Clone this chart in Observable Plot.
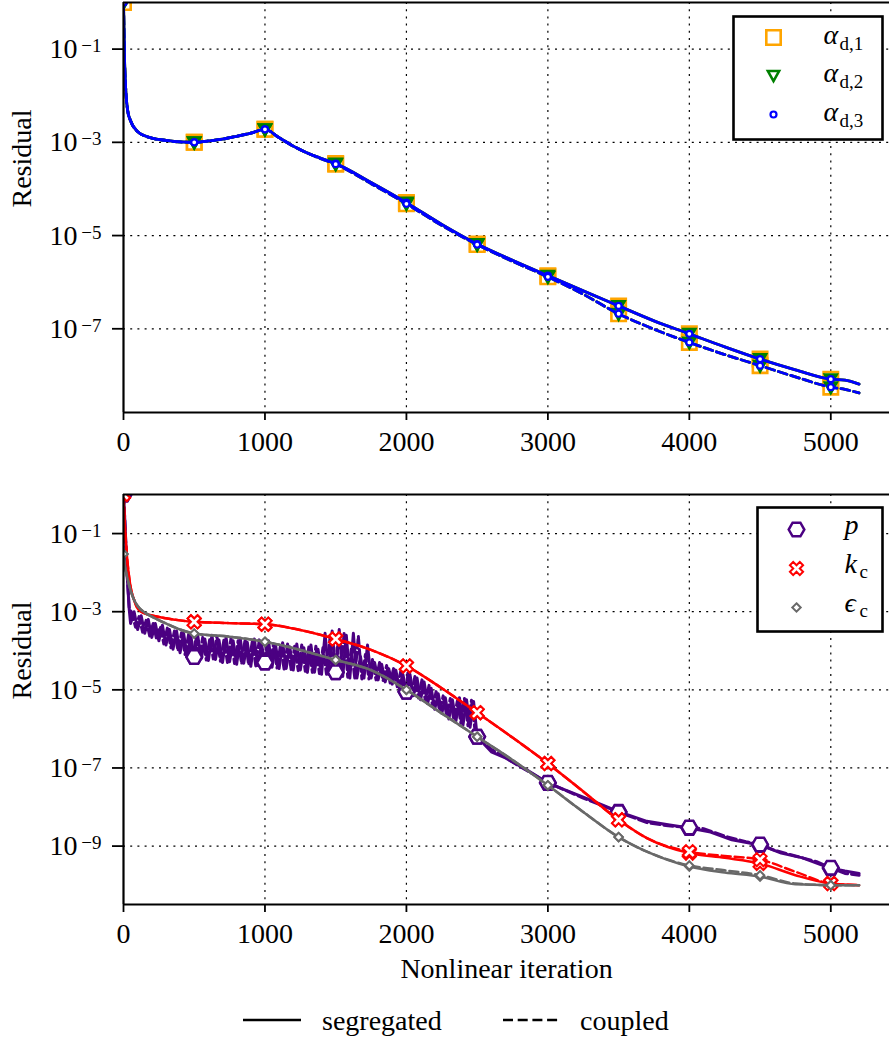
<!DOCTYPE html>
<html><head><meta charset="utf-8">
<script src="https://cdn.jsdelivr.net/npm/d3@7"></script>
<script src="https://cdn.jsdelivr.net/npm/@observablehq/plot@0.6"></script>
<style>
body{margin:0;background:#fff;}
#wrap{width:889px;}
#wrap svg{display:block;}
#legend{position:relative;width:889px;height:49px;font-family:'Liberation Serif','DejaVu Serif',serif;font-size:28px;}
#legend span{position:absolute;line-height:28px;white-space:nowrap;}
#legend svg{position:absolute;}
</style></head><body><div id="wrap"></div><div id="legend"></div>
<script>
// ---------- axes / ticks ----------
const xTicks = [0, 1000, 2000, 3000, 4000, 5000];
const xGrid = [1000, 2000, 3000, 4000, 5000];
const yTicksTop = [1e-1, 1e-3, 1e-5, 1e-7];
const yExpTop = ["−1", "−3", "−5", "−7"];
const yTicksBot = [1e-1, 1e-3, 1e-5, 1e-7, 1e-9];
const yExpBot = ["−1", "−3", "−5", "−7", "−9"];

// ---------- top panel: phase fractions ----------
const alphaIter = [0, 8, 15, 30, 50, 100, 150, 200, 300, 400, 500, 600, 700, 800, 900, 1000, 1100, 1200, 1300, 1400, 1500, 1750, 2000, 2250, 2500, 2750, 3000, 3250, 3500, 3750, 4000, 4250, 4500, 4750, 5000, 5100, 5200];
const alpha1Seg = [1.0, 5e-2, 1.5e-2, 4.7e-3, 2.9e-3, 1.7e-3, 1.38e-3, 1.23e-3, 1.1e-3, 1.02e-3, 1.0e-3, 1.07e-3, 1.17e-3, 1.35e-3, 1.58e-3, 1.9e-3, 1.26e-3, 8.3e-4, 5.9e-4, 4.5e-4, 3.5e-4, 1.38e-4, 5.1e-5, 1.74e-5, 6.6e-6, 2.95e-6, 1.38e-6, 6.5e-7, 3.1e-7, 1.48e-7, 7.8e-8, 4.1e-8, 2.24e-8, 1.32e-8, 8.3e-9, 7.9e-9, 6.5e-9];
const alpha2Seg = [1.0, 5e-2, 1.5e-2, 4.7e-3, 2.9e-3, 1.7e-3, 1.38e-3, 1.23e-3, 1.1e-3, 1.02e-3, 1.0e-3, 1.07e-3, 1.17e-3, 1.35e-3, 1.58e-3, 1.9e-3, 1.26e-3, 8.3e-4, 5.9e-4, 4.5e-4, 3.5e-4, 1.38e-4, 5.1e-5, 1.74e-5, 6.6e-6, 2.95e-6, 1.38e-6, 6.5e-7, 3.1e-7, 1.48e-7, 7.8e-8, 4.1e-8, 2.24e-8, 1.32e-8, 8.3e-9, 7.9e-9, 6.5e-9];
const alpha3Seg = [1.0, 5e-2, 1.5e-2, 4.7e-3, 2.9e-3, 1.7e-3, 1.38e-3, 1.23e-3, 1.1e-3, 1.02e-3, 1.0e-3, 1.07e-3, 1.17e-3, 1.35e-3, 1.58e-3, 1.9e-3, 1.26e-3, 8.3e-4, 5.9e-4, 4.5e-4, 3.5e-4, 1.38e-4, 5.1e-5, 1.74e-5, 6.6e-6, 2.95e-6, 1.38e-6, 6.5e-7, 3.1e-7, 1.48e-7, 7.8e-8, 4.1e-8, 2.24e-8, 1.32e-8, 8.3e-9, 7.9e-9, 6.5e-9];
const alpha1Coup = [1.0, 5e-2, 1.5e-2, 4.7e-3, 2.9e-3, 1.7e-3, 1.38e-3, 1.23e-3, 1.1e-3, 1.02e-3, 1.0e-3, 1.07e-3, 1.17e-3, 1.35e-3, 1.58e-3, 1.9e-3, 1.26e-3, 8.3e-4, 5.9e-4, 4.4e-4, 3.4e-4, 1.3e-4, 4.8e-5, 1.65e-5, 6.4e-6, 2.8e-6, 1.3e-6, 5.5e-7, 2.1e-7, 9.8e-8, 5.1e-8, 2.8e-8, 1.62e-8, 9.3e-9, 5.6e-9, 5.0e-9, 4.2e-9];
const alpha2Coup = [1.0, 5e-2, 1.5e-2, 4.7e-3, 2.9e-3, 1.7e-3, 1.38e-3, 1.23e-3, 1.1e-3, 1.02e-3, 1.0e-3, 1.07e-3, 1.17e-3, 1.35e-3, 1.58e-3, 1.9e-3, 1.26e-3, 8.3e-4, 5.9e-4, 4.4e-4, 3.4e-4, 1.3e-4, 4.8e-5, 1.65e-5, 6.4e-6, 2.8e-6, 1.3e-6, 5.5e-7, 2.1e-7, 9.8e-8, 5.1e-8, 2.8e-8, 1.62e-8, 9.3e-9, 5.6e-9, 5.0e-9, 4.2e-9];
const alpha3Coup = [1.0, 5e-2, 1.5e-2, 4.7e-3, 2.9e-3, 1.7e-3, 1.38e-3, 1.23e-3, 1.1e-3, 1.02e-3, 1.0e-3, 1.07e-3, 1.17e-3, 1.35e-3, 1.58e-3, 1.9e-3, 1.26e-3, 8.3e-4, 5.9e-4, 4.4e-4, 3.4e-4, 1.3e-4, 4.8e-5, 1.65e-5, 6.4e-6, 2.8e-6, 1.3e-6, 5.5e-7, 2.1e-7, 9.8e-8, 5.1e-8, 2.8e-8, 1.62e-8, 9.3e-9, 5.6e-9, 5.0e-9, 4.2e-9];

// ---------- bottom panel: pressure, k, epsilon ----------
const pSegIter = [0, 10, 25, 40,
  50, 75, 100, 125, 150, 175, 200, 225, 250, 275, 300, 325, 350, 375, 400, 425, 450, 475,
  500, 525, 550, 575, 600, 625, 650, 675, 700, 725, 750, 775, 800, 825, 850, 875, 900, 925, 950, 975,
  1000, 1025, 1050, 1075, 1100, 1125, 1150, 1175, 1200, 1225, 1250, 1275, 1300, 1325, 1350, 1375, 1400, 1425, 1450, 1475,
  1500, 1525, 1550, 1575, 1600, 1625, 1650, 1675, 1700, 1725, 1750, 1775, 1800, 1825, 1850, 1875, 1900, 1925, 1950, 1975,
  2000, 2025, 2050, 2075, 2100, 2125, 2150, 2175, 2200, 2225, 2250, 2275, 2300, 2325, 2350, 2375, 2400, 2425, 2450, 2475,
  2500, 2600, 2700, 2850, 3000, 3250, 3500, 3700, 3850, 4000, 4150, 4300, 4500, 4650, 4800, 5000, 5100, 5200];
const pSeg = [1.0, 2e-1, 1e-2, 1.2e-3,
  5.0e-4, 1.0e-3, 3.5e-4, 7.9e-4, 2.8e-4, 6.3e-4, 2.2e-4, 5.0e-4, 1.8e-4, 4.5e-4, 1.4e-4, 3.5e-4, 1.1e-4, 3.2e-4, 8.9e-5, 2.8e-4, 7.1e-5, 2.5e-4,
  6.9e-5, 2.4e-4, 6.3e-5, 2.0e-4, 5.6e-5, 2.5e-4, 6.0e-5, 1.9e-4, 5.0e-5, 2.2e-4, 5.2e-5, 1.8e-4, 4.5e-5, 2.1e-4, 4.8e-5, 1.66e-4, 4.0e-5, 2.0e-4, 4.2e-5, 1.5e-4,
  5.0e-5, 1.8e-4, 3.8e-5, 1.4e-4, 3.5e-5, 1.6e-4, 3.5e-5, 1.26e-4, 3.2e-5, 1.5e-4, 3.2e-5, 1.2e-4, 2.8e-5, 1.4e-4, 2.8e-5, 1.1e-4, 2.5e-5, 2.8e-4, 2.5e-5, 3.2e-4,
  2.8e-5, 3.5e-4, 2.2e-5, 2.5e-4, 2.0e-5, 2.8e-4, 2.0e-5, 7.1e-5, 2.0e-5, 1.4e-4, 2.0e-5, 5.0e-5, 1.8e-5, 4.5e-5, 1.6e-5, 3.5e-5, 1.4e-5, 3.2e-5, 1.1e-5, 2.5e-5,
  8.9e-6, 2.5e-5, 7.1e-6, 2.0e-5, 5.6e-6, 1.6e-5, 4.5e-6, 1.1e-5, 3.2e-6, 7.9e-6, 2.5e-6, 6.3e-6, 1.8e-6, 5.6e-6, 1.6e-6, 6.3e-6, 1.26e-6, 5.6e-6, 1.1e-6, 5.0e-6,
  6.3e-7, 2.6e-7, 1.8e-7, 9e-8, 4.1e-8, 1.8e-8, 7.6e-9, 4.3e-9, 3.5e-9, 2.9e-9, 2.3e-9, 1.45e-9, 1.07e-9, 6.6e-10, 5.0e-10, 2.7e-10, 2.3e-10, 2.0e-10];
const pCoupIter = [0, 10, 25, 40,
  60, 85, 110, 135, 160, 185, 210, 235, 260, 285, 310, 335, 360, 385, 410, 435, 460, 485,
  500, 510, 535, 560, 585, 610, 635, 660, 685, 710, 735, 760, 785, 810, 835, 860, 885, 910, 935, 960, 985,
  1000, 1010, 1035, 1060, 1085, 1110, 1135, 1160, 1185, 1210, 1235, 1260, 1285, 1310, 1335, 1360, 1385, 1410, 1435, 1460, 1485,
  1500, 1510, 1535, 1560, 1585, 1610, 1635, 1660, 1685, 1710, 1735, 1760, 1785, 1810, 1835, 1860, 1885, 1910, 1935, 1960, 1985,
  2000, 2010, 2035, 2060, 2085, 2110, 2135, 2160, 2185, 2210, 2235, 2260, 2285, 2310, 2335, 2360, 2385, 2410, 2435, 2460, 2485,
  2500, 2600, 2700, 2800, 3000, 3250, 3500, 3700, 3850, 4000, 4100, 4250, 4400, 4500, 4600, 4750, 4900, 5000, 5100, 5200];
const pCoup = [1.0, 2e-1, 1e-2, 1.3e-3,
  9e-4, 4.0e-4, 7.5e-4, 3.0e-4, 6.0e-4, 2.4e-4, 5.0e-4, 1.9e-4, 4.2e-4, 1.5e-4, 3.8e-4, 1.2e-4, 3.2e-4, 1.0e-4, 2.9e-4, 8.0e-5, 2.6e-4, 7.0e-5,
  6.9e-5, 2.3e-4, 6.5e-5, 2.2e-4, 5.8e-5, 2.0e-4, 6.2e-5, 2.4e-4, 5.4e-5, 1.9e-4, 5.0e-5, 2.1e-4, 4.7e-5, 1.8e-4, 4.6e-5, 2.0e-4, 4.3e-5, 1.7e-4, 4.1e-5, 1.9e-4, 4.0e-5,
  5.0e-5, 1.6e-4, 3.9e-5, 1.5e-4, 3.6e-5, 1.4e-4, 3.4e-5, 1.5e-4, 3.3e-5, 1.3e-4, 3.1e-5, 1.4e-4, 3.0e-5, 1.25e-4, 2.8e-5, 1.3e-4, 2.6e-5, 1.2e-4, 2.5e-5, 2.2e-4, 2.5e-5,
  2.8e-5, 1.2e-4, 2.3e-5, 3.0e-4, 2.1e-5, 1.1e-4, 2.0e-5, 2.4e-4, 1.9e-5, 8.0e-5, 1.9e-5, 6.0e-5, 1.8e-5, 5.0e-5, 1.7e-5, 4.2e-5, 1.5e-5, 3.6e-5, 1.2e-5, 3.0e-5, 1.0e-5,
  8.9e-6, 2.7e-5, 7.8e-6, 2.2e-5, 6.2e-6, 1.8e-5, 5.0e-6, 1.3e-5, 3.8e-6, 9.0e-6, 2.8e-6, 7.0e-6, 2.1e-6, 6.0e-6, 1.7e-6, 5.2e-6, 1.4e-6, 6.0e-6, 1.2e-6, 5.4e-6, 9.0e-7,
  6.3e-7, 3.0e-7, 1.85e-7, 1.1e-7, 4.2e-8, 1.7e-8, 7.4e-9, 4.0e-9, 3.3e-9, 3.0e-9, 2.8e-9, 1.8e-9, 1.3e-9, 1.1e-9, 7.9e-10, 5.6e-10, 4.0e-10, 2.8e-10, 2.0e-10, 1.8e-10];
const turbIter = [0, 10, 25, 50, 75, 100, 150, 200, 300, 400, 500, 750, 1000, 1250, 1500, 1750, 2000, 2250, 2500, 2750, 3000, 3250, 3500, 3700, 4000, 4250, 4500, 4750, 5000, 5200];
const kSeg = [1.0, 1.5e-1, 2.5e-2, 4.3e-3, 2.0e-3, 1.2e-3, 9e-4, 8e-4, 6.8e-4, 6e-4, 5.5e-4, 5.1e-4, 4.8e-4, 3.4e-4, 2.0e-4, 1.05e-4, 4.1e-5, 1.1e-5, 2.6e-6, 6e-7, 1.3e-7, 2.5e-8, 4.7e-9, 1.6e-9, 6.6e-10, 5.0e-10, 3.6e-10, 1.8e-10, 1.1e-10, 1.0e-10];
const kCoup = [1.0, 1.5e-1, 2.5e-2, 4.3e-3, 2.0e-3, 1.2e-3, 9e-4, 8e-4, 6.8e-4, 6e-4, 5.5e-4, 5.1e-4, 4.8e-4, 3.4e-4, 2.0e-4, 1.05e-4, 4.1e-5, 1.1e-5, 2.6e-6, 6e-7, 1.3e-7, 2.5e-8, 4.7e-9, 1.6e-9, 7.2e-10, 5.6e-10, 4.5e-10, 2.2e-10, 1.1e-10, 1.0e-10];
const epsSeg = [3e-2, 1.5e-2, 8e-3, 3.5e-3, 2.0e-3, 1.4e-3, 9.5e-4, 7.5e-4, 5e-4, 3.5e-4, 2.75e-4, 2.3e-4, 1.7e-4, 1.05e-4, 5.8e-5, 3.2e-5, 1.0e-5, 2.5e-6, 6.3e-7, 1.6e-7, 3.6e-8, 7.5e-9, 1.7e-9, 7.2e-10, 3.0e-10, 2.1e-10, 1.65e-10, 1.05e-10, 1.0e-10, 1.0e-10];
const epsCoup = [3e-2, 1.5e-2, 8e-3, 3.5e-3, 2.0e-3, 1.4e-3, 9.5e-4, 7.5e-4, 5e-4, 3.5e-4, 2.75e-4, 2.3e-4, 1.7e-4, 1.05e-4, 5.8e-5, 3.2e-5, 1.0e-5, 2.5e-6, 6.3e-7, 1.6e-7, 3.6e-8, 7.5e-9, 1.7e-9, 7.2e-10, 3.2e-10, 2.4e-10, 1.8e-10, 1.1e-10, 1.0e-10, 1.0e-10];

// ---------- symbols ----------
const sym = (fn) => ({draw(c, size) { fn(c, Math.sqrt(size / Math.PI)); }});
const poly = (c, pts) => { pts.forEach(([x, y], i) => i ? c.lineTo(x, y) : c.moveTo(x, y)); c.closePath(); };
const symSquare = sym((c, r) => poly(c, [[-r, -r], [r, -r], [r, r], [-r, r]]));
const symTriDown = sym((c, r) => poly(c, [[-r, -0.8 * r], [r, -0.8 * r], [0, r]]));
const symCircle = sym((c, r) => { c.moveTo(r, 0); c.arc(0, 0, r, 0, 2 * Math.PI); c.closePath(); });
const symHex = sym((c, r) => poly(c, d3.range(6).map(k => [r * Math.cos(k * Math.PI / 3), r * Math.sin(k * Math.PI / 3)])));
const symX = sym((c, r) => {
  const a = r * 0.33, L = r, s = Math.SQRT1_2;
  const pts = [[a, L], [a, a], [L, a], [L, -a], [a, -a], [a, -L], [-a, -L], [-a, -a], [-L, -a], [-L, a], [-a, a], [-a, L]];
  poly(c, pts.map(([x, y]) => [(x - y) * s, (x + y) * s]));
});
const symDiamond = sym((c, r) => poly(c, [[0, -r], [r, 0], [0, r], [-r, 0]]));

const FONT = "'Liberation Serif','DejaVu Serif',serif";
const xDomain = [0, 5415];
const rows = (iter, vals) => iter.map((t, i) => ({iter: t, res: vals[i]}));
const gridStyle = {stroke: "black", strokeWidth: 1.2, strokeDasharray: "2,5.2"};

function seriesMarks(list, lw, curve) {
  const marks = [];
  for (const s of list) {
    for (const kind of ["seg", "coup"]) {
      const data = rows(s[kind + "Iter"], s[kind]);
      marks.push(Plot.line(data, {x: "iter", y: "res", stroke: s.color, strokeWidth: s.lw || lw,
        strokeDasharray: kind === "coup" ? "9,4" : null, curve: s.curve || curve, clip: true}));
      marks.push(Plot.dot(data.filter(d => d.iter % 500 === 0), {x: "iter", y: "res", symbol: s.symbol, r: s.r,
        stroke: s.color, fill: "white", strokeWidth: s.sw, clip: true}));
    }
  }
  return marks;
}

function legendMarks(items, box, mx, lx, sx, rowsDy, mainDy, subDy) {
  const m = [Plot.frame({fill: "white", stroke: "black", strokeWidth: 2.6, ...box})];
  items.forEach((it, i) => {
    m.push(Plot.dot([0], {frameAnchor: "top-right", dx: mx, dy: rowsDy[i], symbol: it.symbol, r: it.r,
      stroke: it.color, fill: "white", strokeWidth: it.sw}));
    m.push(Plot.text([it.main], {frameAnchor: "top-right", dx: lx, dy: rowsDy[i] + mainDy, text: d => d,
      textAnchor: "start", lineAnchor: "middle", fontSize: 28, fontStyle: "italic"}));
    if (it.sub) m.push(Plot.text([it.sub], {frameAnchor: "top-right", dx: sx, dy: rowsDy[i] + subDy, text: d => d,
      textAnchor: "start", lineAnchor: "middle", fontSize: 19}));
  });
  return m;
}

function axisMarks(yTicks, yExp, yMin) {
  return [
    Plot.ruleX([0], {stroke: "black", strokeWidth: 2.2}),
    Plot.ruleY([1], {stroke: "black", strokeWidth: 2.2}),
    Plot.ruleY([yMin], {stroke: "black", strokeWidth: 2.2}),
    Plot.axisX({ticks: xTicks, tickSize: 8, tickPadding: 11, tickFormat: "d", fontSize: 28, strokeWidth: 1.8, label: null}),
    Plot.axisY({ticks: yTicks, tickSize: 11, tickFormat: () => "", strokeWidth: 1.8, label: null}),
    Plot.text(yTicks, {y: d => d, frameAnchor: "left", text: () => "10", dx: -46, textAnchor: "end", lineAnchor: "middle", fontSize: 28}),
    Plot.text(yTicks, {y: d => d, frameAnchor: "left", text: (d, i) => yExp[i], dx: -22, dy: -3, textAnchor: "end", lineAnchor: "middle", fontSize: 19}),
    Plot.text(["Residual"], {frameAnchor: "left", dx: -101, rotate: -90, text: d => d, fontSize: 28, lineAnchor: "middle"})
  ];
}

// ---------- top plot ----------
const topList = [
  {segIter: alphaIter, seg: alpha1Seg, coupIter: alphaIter, coup: alpha1Coup, color: "#FFA500", symbol: symSquare, r: 7.2, sw: 2.6},
  {segIter: alphaIter, seg: alpha2Seg, coupIter: alphaIter, coup: alpha2Coup, color: "#008000", symbol: symTriDown, r: 5.6, sw: 3},
  {segIter: alphaIter, seg: alpha3Seg, coupIter: alphaIter, coup: alpha3Coup, color: "#0000FF", symbol: symCircle, r: 3, sw: 2.2}
];
const yMinTop = 1.6e-9;
const topPlot = Plot.plot({
  width: 889, height: 460, marginLeft: 123, marginRight: 0, marginTop: 2, marginBottom: 48,
  x: {domain: xDomain, axis: null}, y: {type: "log", domain: [yMinTop, 1], axis: null},
  style: {fontFamily: FONT, fontSize: "28px", color: "black", background: "white"},
  marks: [
    Plot.ruleX(xGrid, gridStyle),
    Plot.ruleY(yTicksTop, gridStyle),
    ...seriesMarks(topList, 2.8, "monotone-x"),
    ...axisMarks(yTicksTop, yExpTop, yMinTop),
    ...legendMarks([
        {main: "α", sub: "d,1", symbol: symSquare, r: 7.2, color: "#FFA500", sw: 2.6},
        {main: "α", sub: "d,2", symbol: symTriDown, r: 5.6, color: "#008000", sw: 2.6},
        {main: "α", sub: "d,3", symbol: symCircle, r: 3, color: "#0000FF", sw: 2.2}
      ], {insetLeft: 610, insetRight: 7, insetTop: 14, insetBottom: 273},
      -116, -66, -50, [35, 73, 112], -2, 6)
  ]
});

// ---------- bottom plot ----------
const botList = [
  {segIter: pSegIter, seg: pSeg, coupIter: pCoupIter, coup: pCoup, color: "#4B0082", symbol: symHex, r: 7.8, sw: 2.5, curve: "linear", lw: 3},
  {segIter: turbIter, seg: kSeg, coupIter: turbIter, coup: kCoup, color: "#FF0000", symbol: symX, r: 7, sw: 2},
  {segIter: turbIter, seg: epsSeg, coupIter: turbIter, coup: epsCoup, color: "#696969", symbol: symDiamond, r: 4.2, sw: 2}
];
const yMinBot = 3.2e-11;
const botPlot = Plot.plot({
  width: 889, height: 530, marginLeft: 123, marginRight: 0, marginTop: 34, marginBottom: 86,
  x: {domain: xDomain, axis: null}, y: {type: "log", domain: [yMinBot, 1], axis: null},
  style: {fontFamily: FONT, fontSize: "28px", color: "black", background: "white"},
  marks: [
    Plot.ruleX(xGrid, gridStyle),
    Plot.ruleY(yTicksBot, gridStyle),
    ...seriesMarks(botList, 2.5, "monotone-x"),
    ...axisMarks(yTicksBot, yExpBot, yMinBot),
    Plot.text(["Nonlinear iteration"], {frameAnchor: "bottom", dy: 65, text: d => d, fontSize: 28, lineAnchor: "middle"}),
    ...legendMarks([
        {main: "p", sub: "", symbol: symHex, r: 7.8, color: "#4B0082", sw: 2.5},
        {main: "k", sub: "c", symbol: symX, r: 7, color: "#FF0000", sw: 2},
        {main: "ϵ", sub: "c", symbol: symDiamond, r: 4.2, color: "#696969", sw: 2}
      ], {insetLeft: 634, insetRight: 7, insetTop: 13, insetBottom: 273},
      -93, -45, -30, [35, 74, 113], -4, 3)
  ]
});

document.getElementById("wrap").append(topPlot, botPlot);

// ---------- line-style legend below ----------
const legendItems = [
  {label: "segregated", dash: null, lineLeft: 243, lineWidth: 58, textLeft: 322},
  {label: "coupled", dash: "10,4.7", lineLeft: 503, lineWidth: 55, textLeft: 580}
];
const leg = d3.select("#legend");
for (const it of legendItems) {
  const s = leg.append("svg").style("left", it.lineLeft + "px").style("top", "25px")
    .attr("width", it.lineWidth).attr("height", 10);
  s.append("line").attr("x1", 0).attr("x2", it.lineWidth).attr("y1", 5).attr("y2", 5)
    .attr("stroke", "black").attr("stroke-width", 2.6).attr("stroke-dasharray", it.dash);
  leg.append("span").style("left", it.textLeft + "px").style("top", "17px").text(it.label);
}
</script>
</body></html>
